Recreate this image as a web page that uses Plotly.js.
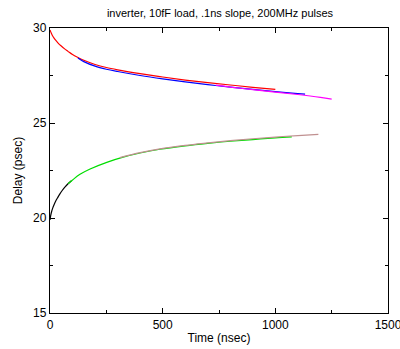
<!DOCTYPE html>
<html>
<head>
<meta charset="utf-8">
<script src="https://cdn.plot.ly/plotly-3.0.1.min.js"></script>
<style>html,body{margin:0;padding:0;background:#fff;}#chart{width:400px;height:349px;}</style>
</head>
<body>
<div id="chart"></div>
<script>
// Upper curves (falling delay)
const redT = [0, 5, 10, 18, 25, 35, 50, 65, 80, 100, 125, 150, 200, 250, 300, 400, 500, 600, 700, 800, 900, 1000];
const redD = [29.9, 29.75, 29.62, 29.47, 29.36, 29.22, 29.05, 28.9, 28.77, 28.6, 28.44, 28.3, 28.08, 27.92, 27.8, 27.6, 27.42, 27.26, 27.12, 27.0, 26.88, 26.77];

const blueT = [124, 150, 200, 250, 300, 400, 500, 600, 700, 800, 900, 1000, 1100, 1132];
const blueD = [28.42, 28.23, 27.99, 27.83, 27.71, 27.5, 27.32, 27.16, 27.02, 26.89, 26.77, 26.65, 26.55, 26.52];

const magT = [735, 800, 900, 1000, 1100, 1200, 1250];
const magD = [26.99, 26.89, 26.76, 26.63, 26.5, 26.35, 26.26];

// Lower curves (rising delay)
const blackT = [0, 3, 7, 12, 18, 25, 33, 44, 55, 67, 80, 95];
const blackD = [19.9, 20.12, 20.33, 20.52, 20.7, 20.88, 21.05, 21.27, 21.46, 21.64, 21.8, 21.96];

const greenT = [80, 100, 133, 178, 252, 325, 400, 488, 600, 700, 800, 900, 1000, 1073];
const greenD = [21.8, 22.0, 22.3, 22.58, 22.93, 23.2, 23.42, 23.62, 23.8, 23.93, 24.04, 24.13, 24.22, 24.27];

const brownT = [310, 400, 488, 600, 700, 800, 900, 1000, 1100, 1191];
const brownD = [23.18, 23.44, 23.64, 23.82, 23.95, 24.07, 24.17, 24.26, 24.34, 24.4];

const xTicks = [0, 500, 1000, 1500];
const yTicks = [15, 20, 25, 30];

const mk = (x, y, c) => ({x: x, y: y, type: 'scatter', mode: 'lines', line: {color: c, width: 1.2, shape: 'spline', smoothing: 1}, hoverinfo: 'skip'});

const data = [
  mk(redT, redD, '#ff0000'),
  mk(blueT, blueD, '#0000ff'),
  mk(magT, magD, '#ff00ff'),
  mk(blackT, blackD, '#000000'),
  mk(greenT, greenD, '#00dd00'),
  mk(brownT, brownD, '#c09090')
];

const fam = 'Liberation Sans, Arial, sans-serif';

const layout = {
  width: 400, height: 349,
  margin: {l: 50, r: 12, t: 28, b: 36},
  paper_bgcolor: '#fff', plot_bgcolor: '#fff',
  showlegend: false,
  font: {family: fam, size: 12, color: '#000'},
  title: {text: 'inverter, 10fF load, .1ns slope, 200MHz pulses', font: {family: fam, size: 11, color: '#000'}, x: 0.55, xanchor: 'center', y: 0.962, yanchor: 'middle'},
  xaxis: {
    range: [0, 1500], tickvals: xTicks, ticktext: xTicks.map(String),
    showgrid: false, zeroline: false, showline: true, linecolor: '#000', linewidth: 1.2, mirror: 'ticks',
    ticks: 'inside', ticklen: 5, tickcolor: '#000', ticklabeloverflow: 'allow',
    minor: {tickvals: [250, 750, 1250], ticks: 'inside', ticklen: 3, tickcolor: '#000', showgrid: false},
    tickfont: {family: fam, size: 12, color: '#000'},
    title: {text: 'Time (nsec)', font: {family: fam, size: 12, color: '#000'}, standoff: 3}
  },
  yaxis: {
    range: [15, 30], tickvals: yTicks, ticktext: yTicks.map(String),
    showgrid: false, zeroline: false, showline: true, linecolor: '#000', linewidth: 1.2, mirror: 'ticks',
    ticks: 'inside', ticklen: 5, tickcolor: '#000', ticklabeloverflow: 'allow',
    minor: {tickvals: [17.5, 22.5, 27.5], ticks: 'inside', ticklen: 3, tickcolor: '#000', showgrid: false},
    tickfont: {family: fam, size: 12, color: '#000'},
    title: {text: 'Delay (psec)', font: {family: fam, size: 12, color: '#000'}, standoff: 7}
  }
};

Plotly.newPlot('chart', data, layout, {staticPlot: true, displayModeBar: false});
</script>
</body>
</html>
